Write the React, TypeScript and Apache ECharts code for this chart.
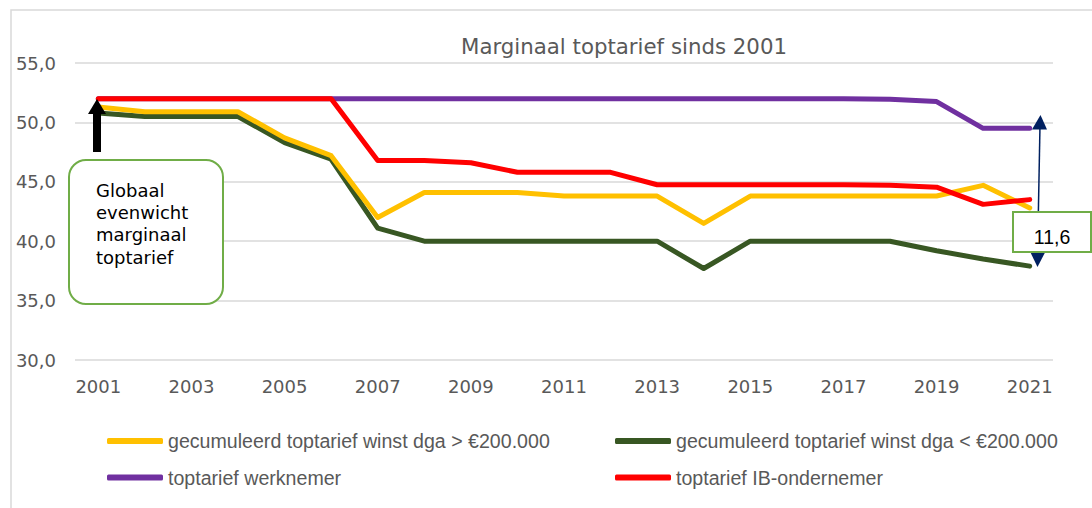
import React, { useEffect, useRef } from "react";
import * as echarts from "echarts";

const years = ["2001","2002","2003","2004","2005","2006","2007","2008","2009","2010","2011","2012","2013","2014","2015","2016","2017","2018","2019","2020","2021"];
const dgaHigh = [51.3,50.9,50.9,50.9,48.7,47.2,42.0,44.1,44.1,44.1,43.8,43.8,43.8,41.5,43.8,43.8,43.8,43.8,43.8,44.7,42.8];
const dgaLow = [50.8,50.5,50.5,50.5,48.3,46.9,41.1,40.0,40.0,40.0,40.0,40.0,40.0,37.7,40.0,40.0,40.0,40.0,39.2,38.5,37.9];
const werknemer = [52.0,52.0,52.0,52.0,52.0,52.0,52.0,52.0,52.0,52.0,52.0,52.0,52.0,52.0,52.0,52.0,52.0,51.95,51.75,49.5,49.5];
const ibOndernemer = [52.0,52.0,52.0,52.0,52.0,52.0,46.8,46.8,46.6,45.8,45.8,45.8,44.75,44.75,44.75,44.75,44.75,44.7,44.55,43.1,43.5];

const names = {
  high: "gecumuleerd toptarief winst dga > €200.000",
  low: "gecumuleerd toptarief winst dga < €200.000",
  wn: "toptarief werknemer",
  ib: "toptarief IB-ondernemer",
};
const titleText = "Marginaal toptarief sinds 2001";
const noteLines = ["Globaal", "evenwicht", "marginaal", "toptarief"];
const gapLabel = "11,6";

const FONT = "DejaVu Sans, Verdana, sans-serif";
const LEG_FONT = "Liberation Sans, Arial, sans-serif";

export default function App() {
  const ref = useRef<HTMLDivElement>(null);
  useEffect(() => {
    if (!ref.current) return;
    const chart = echarts.init(ref.current, undefined, { renderer: "svg" });
    const mkLine = (name: string, data: number[], color: string, z: number) => ({
      name,
      type: "line",
      data,
      symbol: "none",
      z,
      itemStyle: { color },
      lineStyle: { color, width: 5, join: "round", cap: "round" },
    });
    const legendCommon = {
      orient: "vertical",
      top: 431,
      padding: 0,
      itemWidth: 56,
      itemHeight: 6,
      itemGap: 16.6,
      icon: "roundRect",
      textStyle: { fontFamily: LEG_FONT, fontSize: 19.6, color: "#595959", lineHeight: 20 },
    };
    chart.setOption({
      animation: false,
      textStyle: { fontFamily: FONT },
      title: {
        text: titleText,
        left: 619,
        top: 31,
        textAlign: "center",
        textStyle: { fontFamily: FONT, fontSize: 21.3, fontWeight: "normal", color: "#595959" },
      },
      grid: { left: 75, right: 39, top: 63, bottom: 148, containLabel: false },
      xAxis: {
        type: "category",
        data: years,
        boundaryGap: true,
        axisLine: { show: false },
        axisTick: { show: false },
        axisLabel: { interval: 1, color: "#595959", fontSize: 18, fontFamily: FONT, margin: 17 },
      },
      yAxis: {
        type: "value",
        min: 30,
        max: 55,
        interval: 5,
        axisLine: { show: false },
        axisTick: { show: false },
        splitLine: { lineStyle: { color: "#d9d9d9", width: 1.5 } },
        axisLabel: {
          color: "#595959",
          fontSize: 18,
          fontFamily: FONT,
          margin: 19,
          formatter: (v: number) => v.toFixed(1).replace(".", ","),
        },
      },
      legend: [
        { ...legendCommon, data: [names.high, names.wn], left: 107 },
        { ...legendCommon, data: [names.low, names.ib], left: 615 },
      ],
      series: [
        mkLine(names.high, dgaHigh, "#FFC000", 4),
        mkLine(names.low, dgaLow, "#385723", 3),
        mkLine(names.wn, werknemer, "#7030A0", 5),
        mkLine(names.ib, ibOndernemer, "#FF0000", 6),
      ],
      graphic: [
        {
          type: "rect",
          silent: true,
          z: 0,
          shape: { x: 11, y: 10, width: 1200, height: 700 },
          style: { fill: "none", stroke: "#d9d9d9", lineWidth: 1.5 },
        },
        {
          type: "rect",
          z: 10,
          shape: { x: 69, y: 160, width: 154, height: 144, r: 17 },
          style: { fill: "#ffffff", stroke: "#70AD47", lineWidth: 2 },
        },
        {
          type: "text",
          z: 11,
          x: 96,
          y: 179,
          style: {
            text: noteLines.join("\n"),
            font: `18px ${FONT}`,
            fill: "#000000",
            lineHeight: 22.3,
            textVerticalAlign: "top",
          },
        },
        {
          type: "rect",
          z: 10,
          shape: { x: 93, y: 112, width: 8, height: 40 },
          style: { fill: "#000000" },
        },
        {
          type: "polygon",
          z: 10,
          shape: { points: [[88, 114], [106, 114], [97, 99]] },
          style: { fill: "#000000" },
        },
        {
          type: "line",
          z: 10,
          shape: { x1: 1040, y1: 125, x2: 1037.5, y2: 258 },
          style: { stroke: "#002060", lineWidth: 1.5 },
        },
        {
          type: "polygon",
          z: 10,
          shape: { points: [[1032, 129.5], [1047, 129.5], [1040.5, 115]] },
          style: { fill: "#002060" },
        },
        {
          type: "polygon",
          z: 10,
          shape: { points: [[1030.5, 252.5], [1045, 252.5], [1037.5, 267]] },
          style: { fill: "#002060" },
        },
        {
          type: "rect",
          z: 12,
          shape: { x: 1013, y: 212, width: 78, height: 40 },
          style: { fill: "#ffffff", stroke: "#70AD47", lineWidth: 2 },
        },
        {
          type: "text",
          z: 13,
          x: 1052,
          y: 237,
          style: {
            text: gapLabel,
            font: `19.5px ${LEG_FONT}`,
            fill: "#000000",
            textAlign: "center",
            textVerticalAlign: "middle",
          },
        },
      ],
    });
    return () => chart.dispose();
  }, []);
  return (
    <div
      ref={ref}
      style={{ position: "absolute", left: 0, top: 0, width: 1092, height: 508, background: "#ffffff" }}
    />
  );
}
